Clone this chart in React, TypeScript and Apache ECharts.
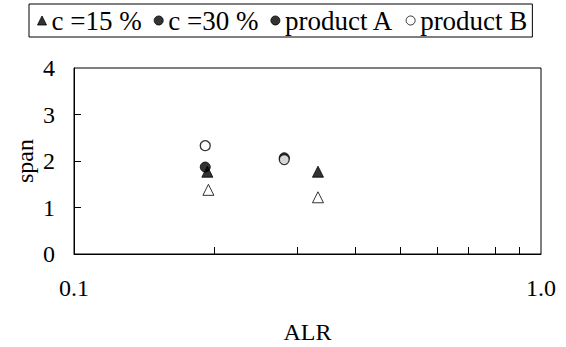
import React, { useEffect, useRef } from "react";
import * as echarts from "echarts";

// ALR (x) and span (y) pairs for each group
const c15Points: [number, number][] = [
  [0.193, 1.77],
  [0.333, 1.77],
];
const c30Points: [number, number][] = [
  [0.194, 1.38],
  [0.333, 1.22],
];
const productAPoints: [number, number][] = [
  [0.191, 1.87],
  [0.282, 2.07],
];
const productBPoints: [number, number][] = [
  [0.191, 2.33],
  [0.282, 2.03],
];

const seriesNames = ["c =15 %", "c =30 %", "product A", "product B"];
const minorTicks = [0.2, 0.3, 0.4, 0.5, 0.6, 0.7, 0.8, 0.9];
const xLabelValues = [0.1, 1];
const yTicks = [0, 1, 2, 3, 4];

const FONT = "Liberation Serif";

export default function App() {
  const ref = useRef<HTMLDivElement>(null);

  useEffect(() => {
    if (!ref.current) return;
    const chart = echarts.init(ref.current, undefined, { renderer: "svg" });
    const filled = { color: "#000", borderColor: "#000", borderWidth: 1 };
    const open = { color: "#fff", borderColor: "#000", borderWidth: 1 };
    const axisText = { fontFamily: FONT, fontSize: 24, color: "#000" };

    chart.setOption({
      animation: false,
      backgroundColor: "#fff",
      textStyle: { fontFamily: FONT, color: "#000" },
      legend: {
        left: 29,
        top: 4,
        padding: [3, 5, 3, 8],
        borderColor: "#000",
        borderWidth: 1,
        itemWidth: 9,
        itemHeight: 9,
        itemGap: 12,
        textStyle: { fontFamily: FONT, fontSize: 27, color: "#000" },
        data: [
          { name: seriesNames[0], icon: "triangle", itemStyle: filled },
          { name: seriesNames[1], icon: "circle", itemStyle: filled },
          { name: seriesNames[2], icon: "circle", itemStyle: filled },
          { name: seriesNames[3], icon: "circle", itemStyle: open },
        ],
      },
      grid: {
        left: 74,
        right: 25,
        top: 68,
        bottom: 93,
        outerBoundsMode: "none",
        containLabel: false,
        show: true,
        borderColor: "#000",
        borderWidth: 1,
        backgroundColor: "transparent",
      },
      xAxis: {
        type: "log",
        logBase: 10,
        min: 0.1,
        max: 1,
        name: "ALR",
        nameLocation: "middle",
        nameGap: 66,
        nameMoveOverlap: false,
        nameTextStyle: axisText,
        axisLine: { lineStyle: { color: "#000", width: 1 } },
        axisTick: {
          show: true,
          inside: true,
          length: 7,
          customValues: minorTicks,
          lineStyle: { color: "#000" },
        },
        axisLabel: {
          ...axisText,
          margin: 22,
          customValues: xLabelValues,
          formatter: (v: number) => v.toFixed(1),
        },
        splitLine: { show: false },
      },
      yAxis: {
        type: "value",
        min: 0,
        max: 4,
        interval: 1,
        name: "span",
        nameLocation: "middle",
        nameGap: 37,
        nameMoveOverlap: false,
        nameTextStyle: axisText,
        axisLine: { show: true, lineStyle: { color: "#000", width: 1 } },
        axisTick: {
          show: true,
          inside: true,
          length: 7,
          customValues: yTicks.slice(1, 4),
          lineStyle: { color: "#000" },
        },
        axisLabel: {
          ...axisText,
          margin: 19,
        },
        splitLine: { show: false },
      },
      series: [
        {
          name: seriesNames[0],
          type: "scatter",
          symbol: "triangle",
          symbolSize: 11,
          itemStyle: filled,
          data: c15Points,
        },
        {
          name: seriesNames[1],
          type: "scatter",
          symbol: "triangle",
          symbolSize: 11,
          itemStyle: open,
          data: c30Points,
        },
        {
          name: seriesNames[2],
          type: "scatter",
          symbol: "circle",
          symbolSize: 10,
          itemStyle: filled,
          data: productAPoints,
        },
        {
          name: seriesNames[3],
          type: "scatter",
          symbol: "circle",
          symbolSize: 10,
          itemStyle: { ...open, borderWidth: 1.3 },
          data: productBPoints,
        },
      ],
    });
    return () => chart.dispose();
  }, []);

  return (
    <div
      ref={ref}
      style={{ position: "absolute", left: 0, top: 0, width: 566, height: 347 }}
    />
  );
}
